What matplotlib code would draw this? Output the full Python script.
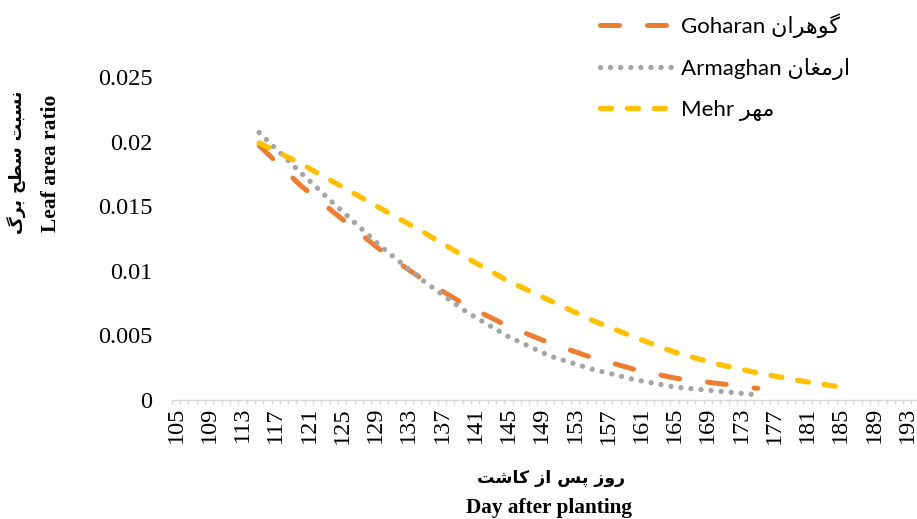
"""Leaf area ratio over days after planting for three cultivars."""

import matplotlib

matplotlib.use("Agg")

import matplotlib.pyplot as plt
import numpy as np

# days after planting at which each cultivar was sampled
days_goharan = [115, 120, 125, 130, 135, 140, 145, 150, 155, 160, 165, 170, 175]
days_armaghan = [115, 120, 125, 130, 135, 140, 145, 150, 155, 160, 165, 170, 175]
days_mehr = [115, 120, 125, 130, 135, 140, 145, 150, 155, 160, 165, 170, 175, 180, 185]

# leaf area ratio
lar_goharan = [0.0197, 0.0166, 0.0140, 0.0114, 0.0092, 0.0073, 0.0057, 0.0044,
               0.0033, 0.0024, 0.0017, 0.0013, 0.0009]
lar_armaghan = [0.0207, 0.0176, 0.0146, 0.0117, 0.0091, 0.0068, 0.0049, 0.0034,
                0.0024, 0.0016, 0.0010, 0.0007, 0.0004]
lar_mehr = [0.0199, 0.0183, 0.0165, 0.0147, 0.0129, 0.0110, 0.0092, 0.0077,
            0.0062, 0.0049, 0.0037, 0.0028, 0.0021, 0.0015, 0.0010]

y_ticks = [0, 0.005, 0.01, 0.015, 0.02, 0.025]
y_labels = ["0", "0.005", "0.01", "0.015", "0.02", "0.025"]
x_labels = list(range(105, 194, 4))

# Persian words written as presentation forms in left-to-right visual order,
# since matplotlib does no Arabic shaping itself
fa_goharan = "\uFEE5\uFE8D\uFEAE\uFEEB\uFEEE\uFB94"
fa_armaghan = "\uFEE5\uFE8E\uFED0\uFEE3\uFEAD\uFE8D"
fa_mehr = "\uFEAE\uFEEC\uFEE3"
fa_xlabel = "\uFE96\uFEB7\uFE8E\uFB90 \uFEAF\uFE8D \uFEB2\uFB58 \uFEAF\uFEED\uFEAD"
fa_ylabel = "\uFB92\uFEAE\uFE91 \uFEA2\uFEC4\uFEB3 \uFE96\uFE92\uFEB4\uFEE7"

W, H = 917, 519
fig = plt.figure(figsize=(W / 100, H / 100), dpi=100)
px_day = 8.31
x0_px, y0_px, y1_px = 171.85, 400, 77
ax = fig.add_axes([x0_px / W, 1 - y0_px / H, 90 * px_day / W, (y0_px - y1_px) / H])

ax.plot(days_goharan, lar_goharan, color="#ED7D31", lw=3.6,
        dashes=(3.8, 5.6), dash_capstyle="round", label="Goharan " + fa_goharan)
ax.plot(days_armaghan, lar_armaghan, color="#A5A5A5", lw=3.8,
        dashes=(0.01, 1.9), dash_capstyle="round", label="Armaghan " + fa_armaghan)
ax.plot(days_mehr, lar_mehr, color="#FFC000", lw=3.8,
        dashes=(2.1, 3.0), dash_capstyle="round", label="Mehr " + fa_mehr)

ax.set_xlim(104.5, 194.5)
ax.set_ylim(0, 0.025)

for side in ("top", "right", "left"):
    ax.spines[side].set_visible(False)
ax.spines["bottom"].set_color("#D9D9D9")
ax.spines["bottom"].set_linewidth(1.0)

serif = ["Liberation Serif", "DejaVu Sans"]
ax.set_yticks(y_ticks)
ax.set_yticklabels(y_labels, family=serif, fontsize=17.5)
ax.tick_params(axis="y", length=0, pad=14)

ax.set_xticks(x_labels)
ax.set_xticklabels([str(d) for d in x_labels], family=serif, fontsize=17.5, rotation=90)
ax.set_xticks(np.arange(104.5, 195, 1.0), minor=True)
ax.tick_params(axis="x", which="major", length=0, pad=5)
ax.tick_params(axis="x", which="minor", length=3, width=1, color="#D9D9D9")

# axis titles, Persian above English
fig.text(551 / W, 1 - 478 / H, fa_xlabel, family=["DejaVu Sans"], weight="bold",
         fontsize=12.5, ha="center", va="center")
fig.text(549 / W, 1 - 508 / H, "Day after planting", family=serif, weight="bold",
         fontsize=15.3, ha="center", va="center")
fig.text(17 / W, 1 - 162 / H, fa_ylabel, family=["DejaVu Sans"], weight="bold",
         fontsize=12.5, ha="center", va="center", rotation=90)
fig.text(51 / W, 1 - 163 / H, "Leaf area ratio", family=serif, weight="bold",
         fontsize=15.5, ha="center", va="center", rotation=90)

ax.legend(loc="upper left", bbox_to_anchor=(600 / W, 1 - 13 / H),
          bbox_transform=fig.transFigure, frameon=False, borderpad=0,
          borderaxespad=0, handlelength=3.4, handletextpad=0.25, labelspacing=0.9,
          prop={"family": ["Lato", "DejaVu Sans"], "size": 16})

fig.savefig("out.png", dpi=100)
plt.close(fig)
